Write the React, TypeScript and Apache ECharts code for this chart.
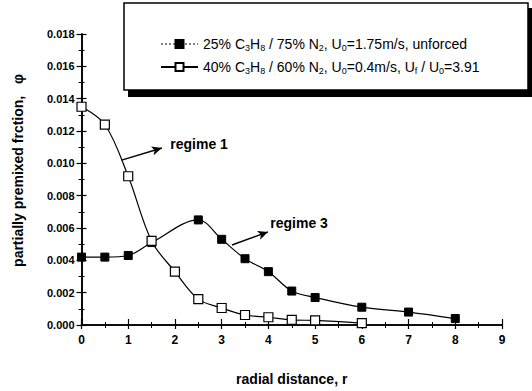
import React, { useEffect, useRef } from "react";
import * as echarts from "echarts";

const unforcedR = [0, 0.5, 1, 1.5, 2.5, 3, 3.5, 4, 4.5, 5, 6, 7, 8];
const unforcedPhi = [0.0042, 0.0042, 0.0043, 0.0051, 0.0065, 0.0053, 0.0041, 0.0033, 0.0021, 0.0017, 0.0011, 0.0008, 0.0004];
const forcedR = [0, 0.5, 1, 1.5, 2, 2.5, 3, 3.5, 4, 4.5, 5, 6];
const forcedPhi = [0.0135, 0.0124, 0.0092, 0.0052, 0.0033, 0.0016, 0.00105, 0.00062, 0.00048, 0.00032, 0.00028, 0.00012];

const seriesNames = [
  "25% C3H8 / 75% N2, U0=1.75m/s, unforced",
  "40% C3H8 / 60% N2, U0=0.4m/s, Uf / U0=3.91",
];
const legendRich = [
  "25% C{s|3}H{s|8} / 75% N{s|2}, U{s|0}=1.75m/s, unforced",
  "40% C{s|3}H{s|8} / 60% N{s|2}, U{s|0}=0.4m/s, U{s|f} / U{s|0}=3.91",
];

// annotations: text, arrow start, arrow end, text anchor (data coords)
const annotations = [
  { text: "regime 1", from: [0.86, 0.0102], to: [1.72, 0.01095], at: [1.9, 0.01117] },
  { text: "regime 3", from: [3.22, 0.00495], to: [3.99, 0.00576], at: [4.04, 0.00628] },
];

const FONT = "'Liberation Sans', Arial, sans-serif";

export default function App() {
  const ref = useRef<HTMLDivElement>(null);
  useEffect(() => {
    if (!ref.current) return;
    const chart = echarts.init(ref.current, null, { renderer: "svg" });
    const axisCommon = {
      axisLine: { show: true, lineStyle: { color: "#000", width: 1.6 } },
      splitLine: { show: false },
    };
    const tickStyle = { show: true, inside: true, length: 5, lineStyle: { color: "#000", width: 1.2 } };
    const minorStyle = { show: true, splitNumber: 2, length: 3, lineStyle: { color: "#000", width: 1 } };
    chart.setOption({
      animation: false,
      backgroundColor: "#fff",
      textStyle: { fontFamily: FONT, color: "#000" },
      grid: { left: 81.5, right: 30, top: 34, bottom: 59 },
      legend: {
        show: true,
        orient: "vertical",
        left: 155,
        top: 31,
        itemWidth: 37,
        itemHeight: 10,
        itemGap: 7,
        data: [
          { name: seriesNames[0], lineStyle: { type: [2, 2], width: 1 } },
          { name: seriesNames[1] },
        ],
        formatter: (name: string) => legendRich[seriesNames.indexOf(name)],
        textStyle: {
          fontFamily: FONT,
          fontSize: 14,
          color: "#000",
          lineHeight: 16,
          rich: {
            s: { fontSize: 9, lineHeight: 16, verticalAlign: "bottom", fontFamily: FONT, color: "#000", padding: [6, 0, 0, 0] },
          },
        },
      },
      xAxis: [
        {
          type: "value",
          min: 0,
          max: 9,
          interval: 1,
          position: "bottom",
          ...axisCommon,
          axisTick: { ...tickStyle, length: 6 },
          minorTick: minorStyle,
          axisLabel: { show: true, margin: 9, fontSize: 12, fontWeight: "bold", fontFamily: FONT, color: "#000" },
          name: "radial distance, r",
          nameLocation: "middle",
          nameGap: 47,
          nameTextStyle: { fontSize: 14, fontWeight: "bold", fontFamily: FONT, color: "#000" },
        },
        {
          type: "value",
          min: 0,
          max: 9,
          interval: 1,
          position: "top",
          ...axisCommon,
          axisTick: { ...tickStyle, length: 4 },
          minorTick: minorStyle,
          axisLabel: { show: false },
        },
      ],
      yAxis: [
        {
          type: "value",
          min: 0,
          max: 0.018,
          interval: 0.002,
          position: "left",
          ...axisCommon,
          axisTick: tickStyle,
          minorTick: minorStyle,
          axisLabel: {
            show: true,
            margin: 7,
            fontSize: 11,
            fontWeight: "bold",
            fontFamily: FONT,
            color: "#000",
            formatter: (v: number) => v.toFixed(3),
          },
          name: "partially premixed frction,   \u03c6",
          nameLocation: "middle",
          nameGap: 57,
          nameRotate: 90,
          nameTextStyle: { fontSize: 14, fontWeight: "bold", fontFamily: FONT, color: "#000", padding: [0, 0, 0, 18] },
        },
        {
          type: "value",
          min: 0,
          max: 0.018,
          interval: 0.002,
          position: "right",
          ...axisCommon,
          axisTick: tickStyle,
          minorTick: minorStyle,
          axisLabel: { show: false },
        },
      ],
      series: [
        {
          name: seriesNames[0],
          type: "line",
          data: unforcedR.map((r, i) => [r, unforcedPhi[i]]),
          smooth: 0.35,
          symbol: "rect",
          symbolSize: 8,
          lineStyle: { color: "#000", width: 1.2 },
          itemStyle: { color: "#000", borderColor: "#000", borderWidth: 1 },
          z: 3,
          markLine: {
            silent: true,
            symbol: ["none", "arrow"],
            symbolSize: [7, 10],
            label: { show: false },
            lineStyle: { color: "#000", width: 1.5, type: "solid" },
            data: annotations.map((a) => [{ coord: a.from }, { coord: a.to }]),
          },
        },
        {
          name: seriesNames[1],
          type: "line",
          data: forcedR.map((r, i) => [r, forcedPhi[i]]),
          smooth: 0.35,
          symbol: "rect",
          symbolSize: 9,
          lineStyle: { color: "#000", width: 1.2 },
          itemStyle: { color: "#fff", borderColor: "#000", borderWidth: 1.2 },
          z: 4,
        },
      ],
    });
    const texts = annotations.map((a) => {
      const p = chart.convertToPixel({ gridIndex: 0 }, a.at) as number[];
      return {
        type: "text",
        x: p[0],
        y: p[1],
        style: {
          text: a.text,
          fontFamily: FONT,
          fontSize: 14,
          fontWeight: "bold",
          fill: "#000",
          verticalAlign: "middle",
        },
        z: 10,
      };
    });
    chart.setOption({
      graphic: [
        { type: "rect", shape: { x: 128, y: 8, width: 404, height: 89 }, style: { fill: "#000" }, z: 0 },
        { type: "rect", shape: { x: 124, y: 3, width: 404, height: 87 }, style: { fill: "#fff", stroke: "#000", lineWidth: 1.5 }, z: 1 },
        ...texts,
      ],
    });
    return () => chart.dispose();
  }, []);
  return <div ref={ref} style={{ position: "absolute", left: 0, top: 0, width: 532, height: 391 }} />;
}
